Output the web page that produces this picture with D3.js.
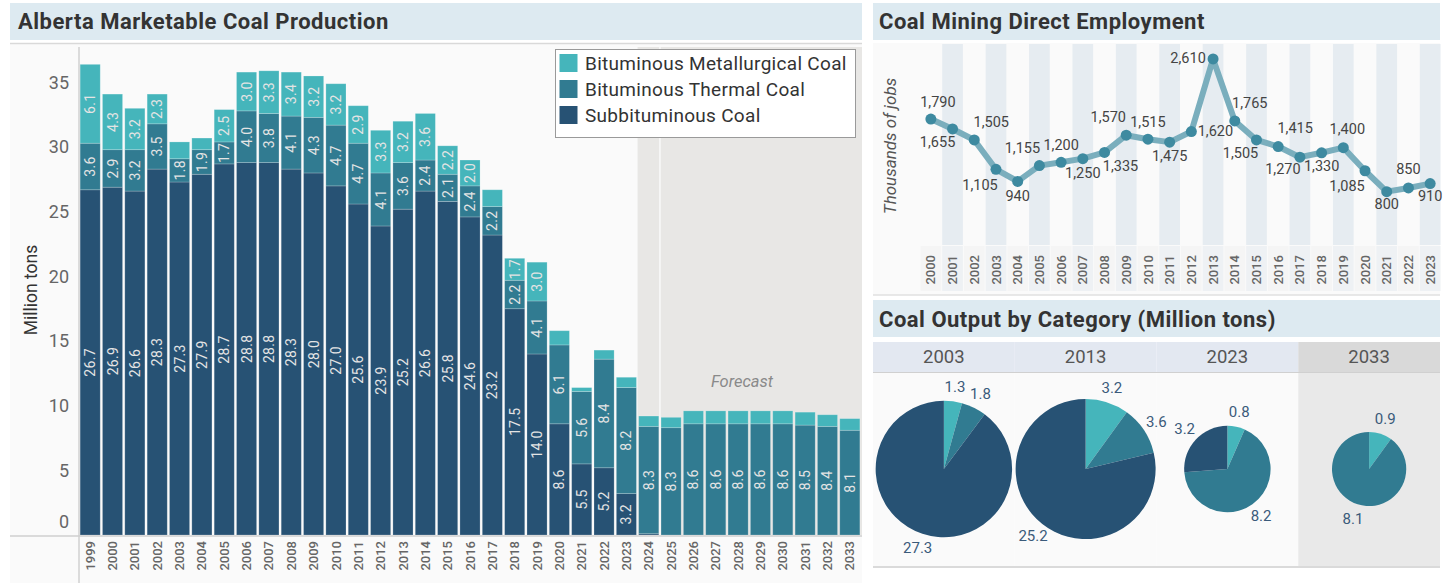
<!DOCTYPE html>
<html><head><meta charset="utf-8">
<script src="https://cdn.jsdelivr.net/npm/d3@7"></script>
<style>
html,body{margin:0;padding:0;background:#fff;}
svg{display:block;font-family:Roboto,"DejaVu Sans",sans-serif;}
</style></head><body>
<svg id="chart" width="1447" height="583"></svg>
<script>
// ---------- data ----------
const years = d3.range(1999, 2034);
const subbituminous = [26.7,26.9,26.6,28.3,27.3,27.9,28.7,28.8,28.8,28.3,28.0,27.0,25.6,23.9,25.2,26.6,25.8,24.6,23.2,17.5,14.0,8.6,5.5,5.2,3.2,
  0.1,0,0,0,0,0,0,0,0,0];
const thermal = [3.6,2.9,3.2,3.5,1.8,1.9,1.7,4.0,3.8,4.1,4.3,4.7,4.7,4.1,3.6,2.4,2.1,2.4,2.2,2.2,4.1,6.1,5.6,8.4,8.2,
  8.3,8.3,8.6,8.6,8.6,8.6,8.6,8.5,8.4,8.1];
const metallurgical = [6.1,4.3,3.2,2.3,1.3,0.9,2.5,3.0,3.3,3.4,3.2,3.2,2.9,3.3,3.2,3.6,2.2,2.0,1.3,1.7,3.0,1.1,0.3,0.7,0.8,
  0.8,0.8,1.0,1.0,1.0,1.0,1.0,1.0,0.9,0.9];
const seriesNames = ["Bituminous Metallurgical Coal","Bituminous Thermal Coal","Subbituminous Coal"];
const yTicks = [0,5,10,15,20,25,30,35];
const forecastStart = 2024;

const empYears = d3.range(2000, 2024);
const employment = [1790,1655,1505,1105,940,1155,1200,1250,1335,1570,1515,1475,1620,2610,1765,1505,1415,1270,1330,1400,1085,800,850,910];

const pieYears = [2003, 2013, 2023, 2033];

// ---------- styles ----------
const colMet = "#45b5bb", colTher = "#317b91", colSub = "#275274";
const titleFill = "#ddeaf1";
const empLabelOffsets = [[7,-17],[-15,14],[17,-17],[-16,16],[0,15],[-17,-17],[0,-17],[0,15],[16,14],[-18,-18],[0,-17],[0,14],
  [24,0],[-25,0],[15,-17],[-16,14],[17,-18],[-17,12],[0,14],[4,-18],[-18,16],[0,13],[0,-18],[0,13]];

const svg = d3.select("#chart");
const f1 = d3.format(".1f");
function title(xp, yp, txt){
  svg.append("text").attr("x",xp).attr("y",yp).attr("font-size",22).attr("font-weight",700)
    .attr("letter-spacing",0.5).attr("fill","#333").text(txt);
}

// ================= LEFT PANEL =================
svg.append("rect").attr("x",10).attr("y",44).attr("width",852).attr("height",539).attr("fill","#fafafa");
svg.append("rect").attr("x",10).attr("y",3).attr("width",852).attr("height",37).attr("fill",titleFill);
svg.append("line").attr("x1",10).attr("x2",862).attr("y1",43.5).attr("y2",43.5).attr("stroke","#d9d9d9").attr("stroke-width",1.5);
title(18, 29, "Alberta Marketable Coal Production");

const x = d3.scaleBand().domain(years).range([79, 861]).paddingInner(0.1).paddingOuter(0.05);
const y = d3.scaleLinear().domain([0, 37]).range([535, 535 - 37*12.93]);

// forecast shading
const fx0 = x(forecastStart) - x.step()*x.paddingInner()/2;
svg.append("rect").attr("x",fx0).attr("y",47).attr("width",862-fx0).attr("height",535-47).attr("fill","#e8e7e5");
const fx1 = x(forecastStart+1) - x.step()*x.paddingInner()/2;
svg.append("line").attr("x1",fx1).attr("x2",fx1).attr("y1",47).attr("y2",535).attr("stroke","#fafafa").attr("stroke-width",1.5);
svg.append("text").attr("x",742).attr("y",381).attr("text-anchor","middle").attr("dominant-baseline","central")
  .attr("font-size",16.5).attr("font-style","italic").attr("fill","#8a8a8a").text("Forecast");

// stacked bars
const rows = years.map((yr,i)=>({year:yr, sub:subbituminous[i], ther:thermal[i], met:metallurgical[i]}));
const stack = d3.stack().keys(["sub","ther","met"])(rows);
const colors = {sub:colSub, ther:colTher, met:colMet};
const gBars = svg.append("g");
stack.forEach(layer=>{
  const g = gBars.append("g");
  g.selectAll("rect").data(layer).join("rect")
    .attr("x", d=>x(d.data.year)).attr("width", x.bandwidth())
    .attr("y", d=>y(d[1])).attr("height", d=>Math.max(0, y(d[0])-y(d[1])))
    .attr("fill", colors[layer.key]).attr("stroke","rgba(255,255,255,0.25)").attr("stroke-width",0.8);
  g.selectAll("text").data(layer.filter(d=>d[1]-d[0] >= 1.5)).join("text")
    .attr("transform", d=>`translate(${x(d.data.year)+x.bandwidth()/2},${(y(d[0])+y(d[1]))/2}) rotate(-90)`)
    .attr("text-anchor","middle").attr("dominant-baseline","central")
    .attr("font-size",14).attr("letter-spacing",0.3).attr("fill","#e4e4e4")
    .text(d=>f1(d[1]-d[0]));
});

// axes
svg.append("line").attr("x1",79).attr("x2",79).attr("y1",47).attr("y2",583).attr("stroke","#d0d0d0").attr("stroke-width",1.5);
svg.append("line").attr("x1",10).attr("x2",862).attr("y1",536).attr("y2",536).attr("stroke","#cfcfcf").attr("stroke-width",1.5);

const yAx = svg.append("g").attr("transform","translate(79,0)")
  .call(d3.axisLeft(y).tickValues(yTicks).tickSize(0).tickPadding(10));
yAx.select(".domain").remove();
yAx.selectAll("text").attr("font-size",18).attr("fill","#666").attr("font-family","Roboto,sans-serif")
  .attr("dy", d=> d===0 ? "-0.4em" : "0.32em");

const xAx = svg.append("g").attr("transform","translate(0,536)")
  .call(d3.axisBottom(x).tickSize(0));
xAx.select(".domain").remove();
xAx.selectAll("text").attr("transform","rotate(-90)").attr("text-anchor","end")
  .attr("x",-5).attr("y",0).attr("dy","0.35em")
  .attr("font-size",13).attr("font-weight",500).attr("fill","#666").attr("font-family","Roboto,sans-serif");

svg.append("text").attr("transform","translate(31,290) rotate(-90)").attr("text-anchor","middle")
  .attr("dominant-baseline","central").attr("font-size",17.5).attr("fill","#333").text("Million tons");

// legend
const lg = svg.append("g");
lg.append("rect").attr("x",555.5).attr("y",49.5).attr("width",300).attr("height",88).attr("fill","#fff").attr("stroke","#9a9a9a");
const legCols = [colMet, colTher, colSub];
seriesNames.forEach((n,i)=>{
  lg.append("rect").attr("x",559.5).attr("y",54+i*26).attr("width",18).attr("height",18).attr("fill",legCols[i]);
  lg.append("text").attr("x",585).attr("y",63+i*26).attr("dominant-baseline","central")
    .attr("font-size",19).attr("letter-spacing",0.3).attr("fill","#333").text(n);
});

// ================= RIGHT TOP: employment =================
svg.append("rect").attr("x",873).attr("y",43).attr("width",567).attr("height",252).attr("fill","#fafafa");
svg.append("rect").attr("x",873).attr("y",3).attr("width",567).attr("height",37).attr("fill",titleFill);
title(879, 29, "Coal Mining Direct Employment");
svg.append("line").attr("x1",873).attr("x2",1440).attr("y1",295).attr("y2",295).attr("stroke","#e0e0e0").attr("stroke-width",1.5);

const xe = d3.scaleBand().domain(empYears).range([920, 1441]).paddingInner(0);
const ye = d3.scaleLinear().domain([0, 2800]).range([250.3, 45]);
const cx = d=>xe(d)+xe.bandwidth()/2;

svg.append("g").selectAll("rect").data(empYears.filter((d,i)=>i%2===1)).join("rect")
  .attr("x", d=>xe(d)+0.5).attr("width", xe.bandwidth()-1).attr("y",44).attr("height",201).attr("fill","#e6ecf1");
svg.append("g").selectAll("rect").data(empYears).join("rect")
  .attr("x", d=>xe(d)+0.5).attr("width", xe.bandwidth()-1).attr("y",246).attr("height",45)
  .attr("fill",(d,i)=> i%2===1 ? "#eef1f4" : "#f5f5f5");

const empData = empYears.map((yr,i)=>({year:yr, v:employment[i], off:empLabelOffsets[i]}));
svg.append("path").datum(empData)
  .attr("d", d3.line().x(d=>cx(d.year)).y(d=>ye(d.v)))
  .attr("fill","none").attr("stroke","#7aaebd").attr("stroke-width",6).attr("stroke-linejoin","round").attr("stroke-linecap","round");
svg.append("g").selectAll("circle").data(empData).join("circle")
  .attr("cx", d=>cx(d.year)).attr("cy", d=>ye(d.v)).attr("r",5.5).attr("fill","#3e8aa0");
svg.append("g").selectAll("text").data(empData).join("text")
  .attr("x", d=>cx(d.year)+d.off[0]).attr("y", d=>ye(d.v)+d.off[1])
  .attr("text-anchor","middle").attr("dominant-baseline","central")
  .attr("font-size",14.5).attr("fill","#444").text(d=>d3.format(",")(d.v));

const xeAx = svg.append("g").attr("transform","translate(0,250)").call(d3.axisBottom(xe).tickSize(0));
xeAx.select(".domain").remove();
xeAx.selectAll("text").attr("transform","rotate(-90)").attr("text-anchor","end")
  .attr("x",-5).attr("y",0).attr("dy","0.35em")
  .attr("font-size",13).attr("font-weight",500).attr("fill","#666").attr("font-family","Roboto,sans-serif");

svg.append("text").attr("transform","translate(890,146) rotate(-90)").attr("text-anchor","middle")
  .attr("dominant-baseline","central").attr("font-size",17).attr("font-style","italic").attr("fill","#555")
  .text("Thousands of jobs");

// ================= RIGHT BOTTOM: pies =================
svg.append("rect").attr("x",873).attr("y",300).attr("width",567).attr("height",37).attr("fill",titleFill);
title(879, 327, "Coal Output by Category (Million tons)");

const px = d3.scaleBand().domain(pieYears).range([873, 1440]);
pieYears.forEach((yr,i)=>{
  const last = i===pieYears.length-1;
  svg.append("rect").attr("x",px(yr)).attr("y",342).attr("width",px.bandwidth()).attr("height",30)
    .attr("fill", last ? "#d9d9d9" : "#e3e8f1");
  svg.append("rect").attr("x",px(yr)).attr("y",372).attr("width",px.bandwidth()).attr("height",195)
    .attr("fill", last ? "#e9e9e9" : "#fafafa");
  svg.append("text").attr("x",px(yr)+px.bandwidth()/2).attr("y",357).attr("text-anchor","middle")
    .attr("dominant-baseline","central").attr("font-size",18.5).attr("fill","#555").text(yr);
});
svg.append("line").attr("x1",873).attr("x2",1440).attr("y1",372.5).attr("y2",372.5).attr("stroke","#d0d0d0");
svg.append("line").attr("x1",873).attr("x2",1440).attr("y1",567).attr("y2",567).attr("stroke","#dadada").attr("stroke-width",2);

const rScale = d3.scaleSqrt().domain([0, 32]).range([0, 70]);
const pie = d3.pie().sort(null).value(d=>d.v);
pieYears.forEach(yr=>{
  const i = years.indexOf(yr);
  const parts = [{k:"met",v:metallurgical[i]},{k:"ther",v:thermal[i]},{k:"sub",v:subbituminous[i]}];
  const total = d3.sum(parts, d=>d.v);
  const r = rScale(total);
  const g = svg.append("g").attr("transform",`translate(${px(yr)+px.bandwidth()/2},469)`);
  const arcs = pie(parts).filter(d=>d.data.v>0);
  g.selectAll("path").data(arcs).join("path")
    .attr("d", d3.arc().innerRadius(0).outerRadius(r)).attr("fill", d=>colors[d.data.k]);
  const la = d3.arc().innerRadius(r+15).outerRadius(r+15);
  g.selectAll("text").data(arcs).join("text")
    .attr("x", d=>la.centroid(d)[0]).attr("y", d=>la.centroid(d)[1])
    .attr("text-anchor","middle").attr("dominant-baseline","central")
    .attr("font-size",15).attr("fill","#3a5a7a").text(d=>f1(d.data.v));
});
</script>
</body></html>
